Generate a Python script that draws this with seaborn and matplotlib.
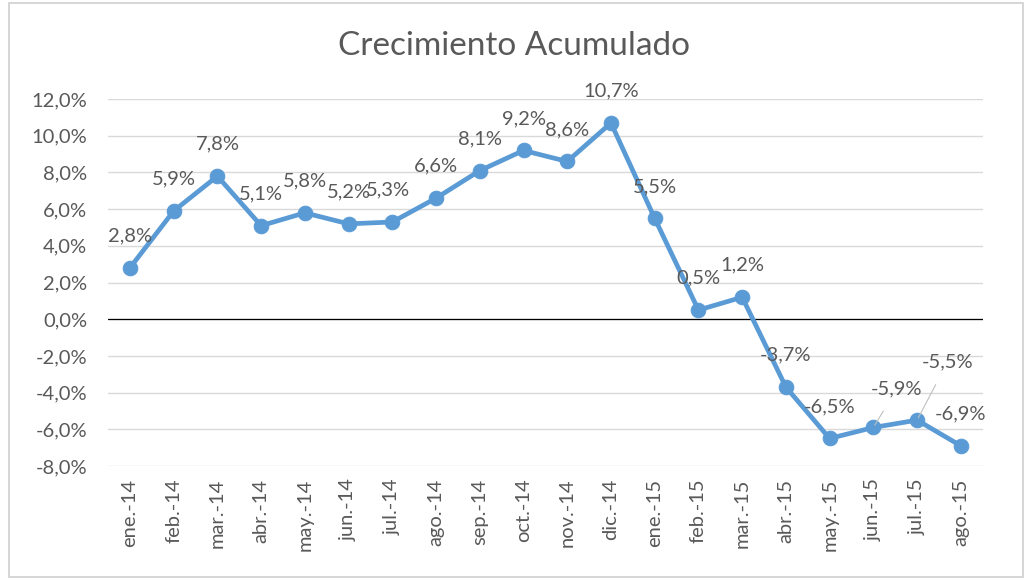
import matplotlib
matplotlib.use('Agg')
import matplotlib.pyplot as plt
import matplotlib.patches as mpatches
from matplotlib.ticker import FuncFormatter
import pandas as pd
import seaborn as sns

meses = ['ene.-14', 'feb.-14', 'mar.-14', 'abr.-14', 'may.-14', 'jun.-14', 'jul.-14',
         'ago.-14', 'sep.-14', 'oct.-14', 'nov.-14', 'dic.-14', 'ene.-15', 'feb.-15',
         'mar.-15', 'abr.-15', 'may.-15', 'jun.-15', 'jul.-15', 'ago.-15']
crecimiento = [2.8, 5.9, 7.8, 5.1, 5.8, 5.2, 5.3, 6.6, 8.1, 9.2, 8.6, 10.7, 5.5, 0.5,
               1.2, -3.7, -6.5, -5.9, -5.5, -6.9]

sns.set_style('white')
plt.rcParams['font.family'] = ['Lato', 'DejaVu Sans']

df = pd.DataFrame({'mes': meses, 'valor': crecimiento})
df['pos'] = range(len(df))

fig = plt.figure(figsize=(10.29, 5.83), dpi=100)
ax = fig.add_axes([0.105, 0.2007, 0.850, 0.6293])

sns.lineplot(data=df, x='pos', y='valor', ax=ax, color='#5B9BD5', linewidth=3.4,
             marker='o', markersize=10.5, markeredgecolor='#5B9BD5', zorder=3)

ax.set_xlim(-0.5, len(meses) - 0.5)
ax.set_ylim(-8, 12)
ax.set_yticks(range(-8, 13, 2))
ax.yaxis.set_major_formatter(FuncFormatter(lambda v, p: f'{v:.1f}%'.replace('.', ',')))
ax.set_xticks(df['pos'])
ax.set_xticklabels(meses, rotation=90)
ax.tick_params(axis='both', labelsize=14.5, labelcolor='#595959', length=0)
ax.tick_params(axis='y', pad=15)
ax.tick_params(axis='x', pad=9)
ax.grid(axis='y', color='#D9D9D9', linewidth=1)
ax.axhline(0, color='black', linewidth=0.9, zorder=2)
for s in ax.spines.values():
    s.set_visible(False)
ax.set_xlabel('')
ax.set_ylabel('')

# desplazamientos de las etiquetas (en puntos)
offsets = {6: (-3, 23)}
lideres = {17: (17, 28), 18: (22, 42)}
for i, v in enumerate(crecimiento):
    txt = f'{v:.1f}%'.replace('.', ',')
    if i in lideres:
        ax.annotate(txt, (i, v), xytext=lideres[i], textcoords='offset points',
                    ha='center', va='center', fontsize=14.5, color='#595959',
                    arrowprops=dict(arrowstyle='-', color='#BFBFBF', lw=0.8,
                                    shrinkA=9, shrinkB=2))
    else:
        dx, dy = offsets.get(i, (0, 23))
        ax.annotate(txt, (i, v), xytext=(dx, dy), textcoords='offset points',
                    ha='center', va='center', fontsize=14.5, color='#595959')

fig.text(0.5, 0.921, 'Crecimiento Acumulado', ha='center', va='center',
         fontsize=24, color='#595959')

fig.patches.append(mpatches.Rectangle((9 / 1029, 1 - 577 / 583), 1014 / 1029, 574 / 583,
                                      transform=fig.transFigure, fill=False,
                                      edgecolor='#D0D0D0', linewidth=1.2))

fig.savefig('out.png', dpi=100)
